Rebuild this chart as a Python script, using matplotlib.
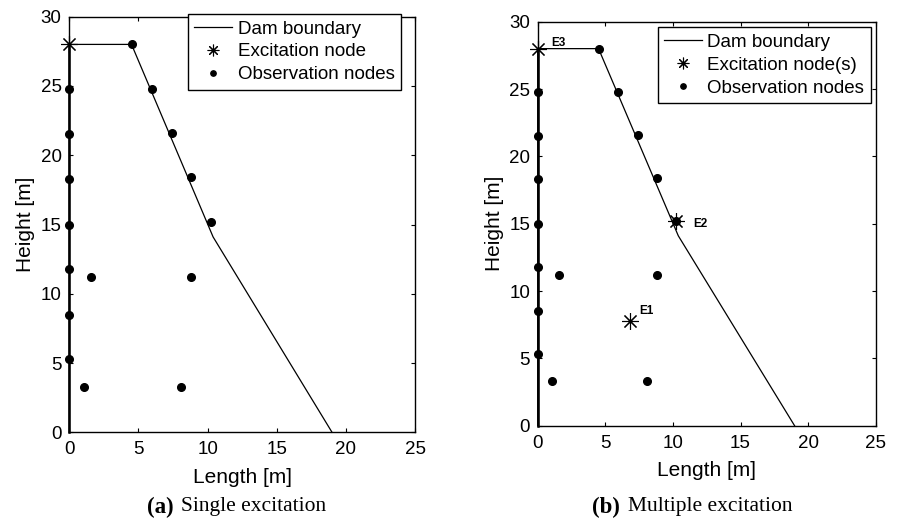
import matplotlib
matplotlib.use("Agg")
import matplotlib.pyplot as plt

plt.rcParams['font.family'] = ['Liberation Sans', 'DejaVu Sans']

# dam outline (length, height)
dam_x = [0, 0, 4.5, 10.4, 19.0]
dam_y = [0, 28, 28, 14.1, 0]

# observation nodes
obs_x = [0, 0, 0, 0, 0, 0, 0, 4.55, 5.97, 7.4, 8.8, 10.24, 1.54, 8.82, 1.06, 8.07]
obs_y = [24.8, 21.5, 18.3, 15.0, 11.8, 8.5, 5.3, 28.0, 24.8, 21.6, 18.4, 15.2, 11.2, 11.2, 3.3, 3.3]

# excitation nodes
exc_a_x = [0]
exc_a_y = [28]
exc_b_x = [6.8, 10.2, 0]
exc_b_y = [7.8, 15.2, 28]
exc_b_names = ["E1", "E2", "E3"]
exc_b_label_dx = [0.7, 1.3, 1.0]
exc_b_label_dy = [0.7, -0.25, 0.4]

W, H = 897, 519
fig = plt.figure(figsize=(W / 100, H / 100), dpi=100)

ax_a = fig.add_axes([69.3 / W, 1 - 432.3 / H, 345.7 / W, 415.6 / H])
ax_b = fig.add_axes([537.7 / W, 1 - 425.7 / H, 338.0 / W, 404.0 / H])

asterisk = (8, 2, 0)


def draw_panel(ax, ex_x, ex_y, exc_label, legend_anchor):
    ax.plot(dam_x, dam_y, color="black", lw=0.9, label="Dam boundary",
            clip_on=False, zorder=3)
    ax.plot([0, 0], [0, 28], color="black", lw=1.8, clip_on=False, zorder=3)
    ax.plot(ex_x, ex_y, linestyle="none", marker=asterisk, markersize=12,
            markeredgewidth=0.8, color="black", label=exc_label,
            clip_on=False, zorder=5)
    ax.plot(obs_x, obs_y, linestyle="none", marker="o", markersize=5.5,
            color="black", label="Observation nodes", clip_on=False, zorder=4)
    ax.set_xlim(0, 25)
    ax.set_ylim(0, 30)
    ax.set_xticks(range(0, 26, 5))
    ax.set_yticks(range(0, 31, 5))
    ax.tick_params(direction="in", top=True, right=True, labelsize=13.5,
                   length=3, width=0.8)
    ax.tick_params(axis="x", pad=6.5)
    ax.tick_params(axis="y", pad=5.5)
    for s in ax.spines.values():
        s.set_linewidth(1.0)
    ax.set_xlabel("Length [m]", fontsize=15, labelpad=7)
    ax.set_ylabel("Height [m]", fontsize=15, labelpad=4)
    leg = ax.legend(loc="upper right", bbox_to_anchor=legend_anchor,
                    borderaxespad=0, fontsize=13.5, fancybox=False,
                    framealpha=1, edgecolor="black", handlelength=2.0,
                    handletextpad=0.3, borderpad=0.35, labelspacing=0.3,
                    markerscale=0.7)
    leg.get_frame().set_linewidth(1.0)
    leg.set_zorder(10)


draw_panel(ax_a, exc_a_x, exc_a_y, "Excitation node", (0.9595, 1.0065))
draw_panel(ax_b, exc_b_x, exc_b_y, "Excitation node(s)", (0.985, 0.986))

for name, x, y, dx, dy in zip(exc_b_names, exc_b_x, exc_b_y,
                              exc_b_label_dx, exc_b_label_dy):
    ax_b.text(x + dx, y + dy, name, fontsize=8.5, fontweight="bold",
              ha="left", va="center")

cap_y = 1 - 507 / H
serif = ['Liberation Serif', 'DejaVu Serif']
fig.text(146.7 / W, cap_y, "(a)", family=serif, fontsize=16.5,
         fontweight="bold", va="center", ha="left")
fig.text(181 / W, cap_y, "Single excitation", family=serif, fontsize=15.5,
         va="center", ha="left")
fig.text(591.7 / W, cap_y, "(b)", family=serif, fontsize=16.5,
         fontweight="bold", va="center", ha="left")
fig.text(628 / W, cap_y, "Multiple excitation", family=serif, fontsize=15.5,
         va="center", ha="left")

fig.savefig("out.png", dpi=100)
